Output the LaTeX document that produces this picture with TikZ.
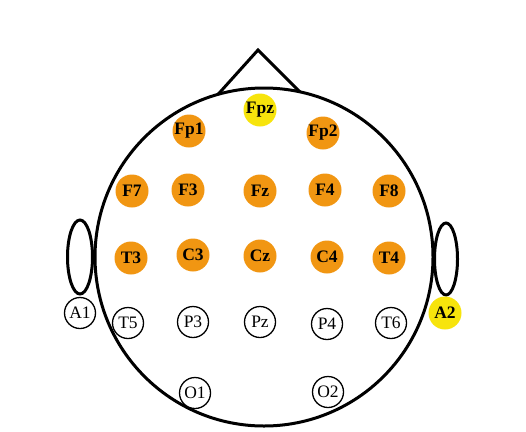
\documentclass[tikz,border=0pt]{standalone}
\usepackage{fontspec}
\setmainfont{Liberation Serif}
\definecolor{eorange}{RGB}{241,150,18}
\definecolor{eyellow}{RGB}{247,228,12}
\begin{document}
\begin{tikzpicture}[x=1pt,y=-1pt,
  el/.style={circle,minimum size=33pt,inner sep=0pt,font=\fontsize{17.5}{17.5}\selectfont\bfseries},
  act/.style={el,fill=eorange},
  ref/.style={el,fill=eyellow},
  pas/.style={el,draw=black,line width=1.3pt,fill=white,minimum size=31pt,font=\fontsize{17.5}{17.5}\selectfont},
  headline/.style={line width=3pt,black}]
\useasboundingbox (0,0) rectangle (526,431);
\fill[white] (0,0) rectangle (526,431);
% ears
\draw[headline] (80,257) ellipse [x radius=12.5, y radius=37];
\draw[headline] (446,259) ellipse [x radius=11.5, y radius=36];
% nose
\coordinate (nl) at (218,94.4);
\coordinate (nr) at (300,91.9);
\coordinate (apex) at (258,50);
\draw[headline,line join=miter] (nl) -- (apex) -- (nr);
% head
\draw[headline] (264,257) circle [radius=169];
% electrodes
\node[ref] (Fpz) at (260,110) {Fpz};
\node[act] (Fp1) at (189,131) {Fp1};
\node[act] (Fp2) at (323,133) {Fp2};
\node[act] (F7) at (132,191) {F7};
\node[act] (F3) at (188,190) {F3};
\node[act] (Fz) at (260,191) {Fz};
\node[act] (F4) at (325,190) {F4};
\node[act] (F8) at (389,191) {F8};
\node[act] (T3) at (131,258) {T3};
\node[act] (C3) at (193,255) {C3};
\node[act] (Cz) at (260,256) {Cz};
\node[act] (C4) at (327,257) {C4};
\node[act] (T4) at (389,258) {T4};
\node[pas] (A1) at (80,313) {A1};
\node[pas] (T5) at (128,323) {T5};
\node[pas] (P3) at (193,322) {P3};
\node[pas] (Pz) at (260,322) {Pz};
\node[pas] (P4) at (327,324) {P4};
\node[pas] (T6) at (391,323) {T6};
\node[ref] (A2) at (445,313) {A2};
\node[pas] (O1) at (195,393) {O1};
\node[pas] (O2) at (328,392) {O2};
\end{tikzpicture}
\end{document}
